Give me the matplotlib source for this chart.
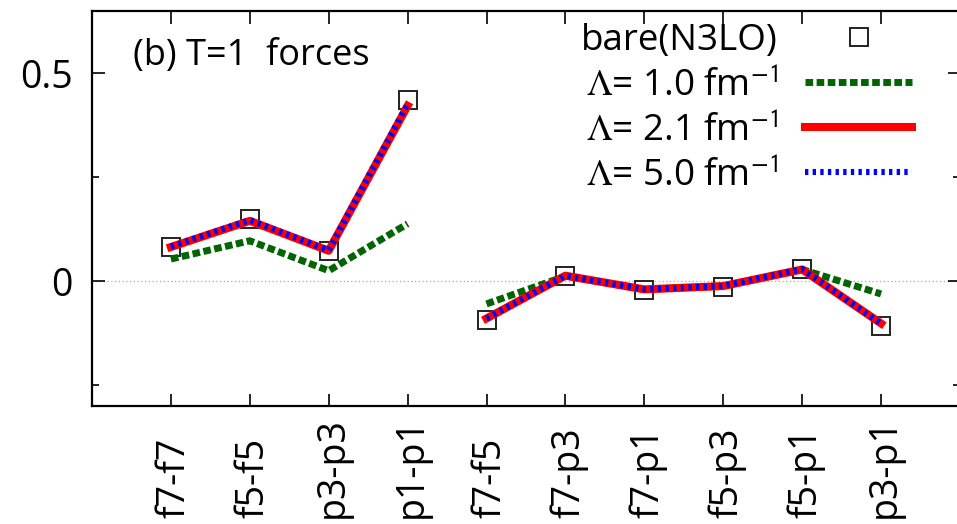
import numpy as np
import matplotlib
matplotlib.use("Agg")
import matplotlib.pyplot as plt
from matplotlib.transforms import blended_transform_factory

plt.rcParams['font.family'] = ['Open Sans', 'DejaVu Sans']
plt.rcParams['mathtext.fontset'] = 'stix'

# partial waves, T=1 channel
pairs = ["f7-f7", "f5-f5", "p3-p3", "p1-p1",
         "f7-f5", "f7-p3", "f7-p1", "f5-p3", "f5-p1", "p3-p1"]
diag_idx = [1, 2, 3, 4]
offd_idx = [5, 6, 7, 8, 9, 10]

bare_diag = [0.081, 0.150, 0.073, 0.436]
bare_offd = [-0.094, 0.012, -0.022, -0.014, 0.030, -0.108]

lam10_diag = [0.053, 0.097, 0.025, 0.138]
lam10_offd = [-0.055, 0.012, -0.020, -0.012, 0.028, -0.031]

lam21_diag = [0.082, 0.145, 0.073, 0.422]
lam21_offd = [-0.090, 0.013, -0.020, -0.012, 0.028, -0.102]

lam50_diag = [0.083, 0.147, 0.074, 0.426]
lam50_offd = [-0.090, 0.013, -0.020, -0.012, 0.029, -0.103]

fig = plt.figure(figsize=(9.57, 5.24), dpi=100)
ax = fig.add_axes([0.0961, 0.2258, 0.907, 0.753])

ax.axhline(0, color='#aaaaaa', lw=0.9, ls=(0, (1, 2)), zorder=1)

x1 = np.array(diag_idx)
x2 = np.array(offd_idx)

sq = dict(ls='none', marker='s', ms=13.5, mfc='none', mec='#222222', mew=1.4)
ax.plot(x1, bare_diag, zorder=2, **sq)
ax.plot(x2, bare_offd, zorder=2, **sq)

g = dict(color='#006400', lw=5.0, ls=(0, (1.1, 0.5)), zorder=3)
ax.plot(x1, lam10_diag, **g)
ax.plot(x2, lam10_offd, **g)

r = dict(color='#ff0000', lw=5.8, ls='-', zorder=4)
ax.plot(x1, lam21_diag, **r)
ax.plot(x2, lam21_offd, **r)

b = dict(color='#0000ff', lw=4.4, ls=(0, (0.55, 0.7)), zorder=5)
ax.plot(x1, lam50_diag, **b)
ax.plot(x2, lam50_offd, **b)

# legend handles
h0, = ax.plot([], [], label='bare(N3LO)', **sq)
h1, = ax.plot([], [], label=r'$\Lambda$= 1.0 fm$^{\mathsf{-1}}$', **g)
h2, = ax.plot([], [], label=r'$\Lambda$= 2.1 fm$^{\mathsf{-1}}$', **r)
h3, = ax.plot([], [], label=r'$\Lambda$= 5.0 fm$^{\mathsf{-1}}$', **b)
ax.legend(handles=[h0, h1, h2, h3], loc='upper right', bbox_to_anchor=(0.98, 1.005),
          bbox_transform=fig.transFigure, frameon=False, markerfirst=False,
          fontsize=26.5, handlelength=2.9, handletextpad=0.75, labelspacing=0.24,
          borderpad=0.2)

ax.set_xlim(0, 11)
ax.set_ylim(-0.3, 0.65)

ax.set_xticks(np.arange(1, 11))
ax.set_xticklabels([])
ax.set_yticks([0, 0.5])
ax.set_yticklabels(['0', '0.5'])
ax.set_yticks([-0.25, 0.25], minor=True)
ax.tick_params(axis='both', which='major', direction='in', length=9, width=1.2,
               top=True, right=True, labelsize=27, pad=14)
ax.tick_params(axis='y', which='minor', direction='in', length=5, width=1.2, right=True)
for s in ax.spines.values():
    s.set_linewidth(1.6)

# rotated pair labels, all starting from the same bottom line
trans = blended_transform_factory(ax.transData, fig.transFigure)
for i, lab in enumerate(pairs):
    ax.text(i + 1 + 0.05, 0.012, lab, transform=trans, rotation=90,
            ha='center', va='bottom', fontsize=27)

ax.text(0.047, 0.863, '(b) T=1  forces', transform=ax.transAxes,
        fontsize=26, va='baseline', ha='left')

fig.savefig('out.png', dpi=100)
